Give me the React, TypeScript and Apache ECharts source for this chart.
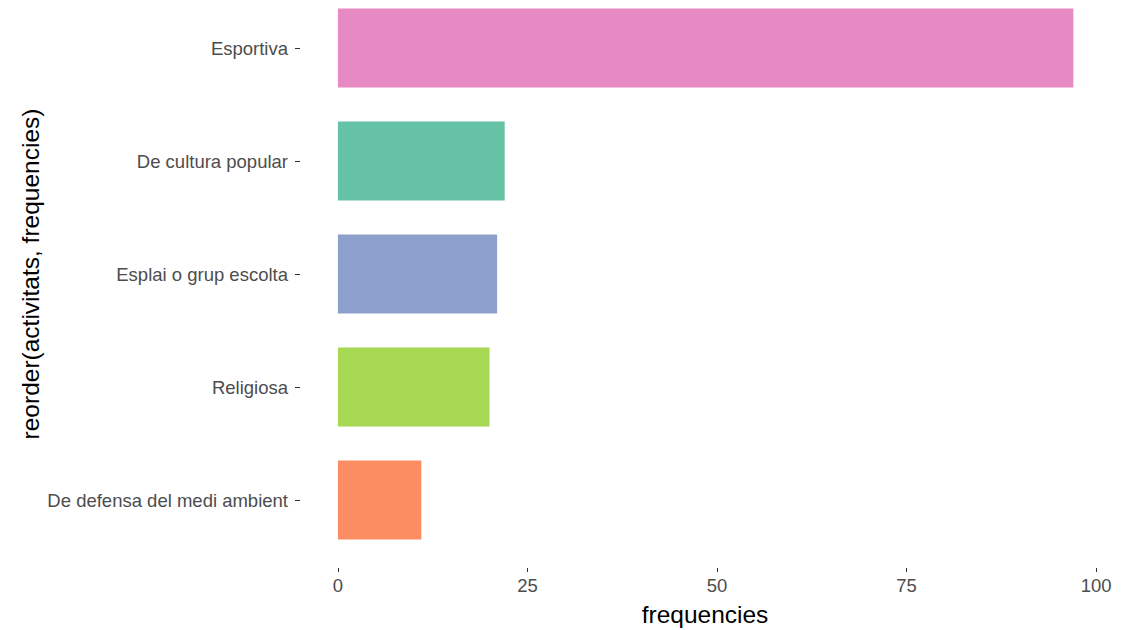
import React, { useEffect, useRef } from "react";
import * as echarts from "echarts";

const categories = [
  "De defensa del medi ambient",
  "Religiosa",
  "Esplai o grup escolta",
  "De cultura popular",
  "Esportiva",
];
const frequencies = [11, 20, 21, 22, 97];
const barColors = ["#FC8D62", "#A6D854", "#8DA0CB", "#66C2A5", "#E78AC3"];
const xTicks = [0, 25, 50, 75, 100];
const xRange = [-5, 105];

const SHIFT = 9; // the chart div is moved up by this many pixels

export default function App() {
  const ref = useRef<HTMLDivElement>(null);
  useEffect(() => {
    if (!ref.current) return;
    const chart = echarts.init(ref.current, null, { renderer: "svg" });
    const font = "Liberation Sans, Arial, sans-serif";
    chart.setOption({
      animation: false,
      backgroundColor: "#FFFFFF",
      grid: { left: 300, width: 834, top: 0.5, height: 565, containLabel: false },
      xAxis: {
        type: "value",
        min: xRange[0],
        max: xRange[1],
        offset: 11.5,
        axisLine: { show: false, onZero: false },
        axisTick: {
          show: true,
          length: 4,
          customValues: xTicks,
          lineStyle: { color: "#333333", width: 1 },
        },
        splitLine: { show: false },
        axisLabel: {
          customValues: xTicks,
          color: "#4D4D4D",
          fontSize: 18.5,
          fontFamily: font,
          margin: 8,
        },
      },
      yAxis: {
        type: "category",
        data: categories,
        axisLine: { show: false, onZero: false },
        axisTick: {
          show: true,
          length: 5,
          alignWithLabel: true,
          lineStyle: { color: "#333333", width: 1 },
        },
        axisLabel: { color: "#4D4D4D", fontSize: 18.5, fontFamily: font, margin: 12 },
        splitLine: { show: false },
      },
      series: [
        {
          type: "bar",
          data: frequencies.map((v, i) => ({ value: v, itemStyle: { color: barColors[i] } })),
          barWidth: 79,
        },
      ],
      graphic: [
        {
          type: "text",
          x: 705,
          y: 614 + SHIFT,
          style: {
            text: "frequencies",
            fontSize: 24.5,
            fontFamily: font,
            fill: "#000000",
            align: "center",
            verticalAlign: "middle",
          },
        },
        {
          type: "text",
          x: 30,
          y: 274 + SHIFT,
          rotation: Math.PI / 2,
          style: {
            text: "reorder(activitats, frequencies)",
            fontSize: 24.5,
            fontFamily: font,
            fill: "#000000",
            align: "center",
            verticalAlign: "middle",
          },
        },
      ],
    });
    return () => chart.dispose();
  }, []);
  return (
    <div style={{ position: "fixed", left: 0, top: 0, width: 1137, height: 630, overflow: "hidden", background: "#FFFFFF" }}>
      <div
        ref={ref}
        style={{ position: "absolute", left: 0, top: -SHIFT, width: 1137, height: 630 + SHIFT }}
      />
    </div>
  );
}
